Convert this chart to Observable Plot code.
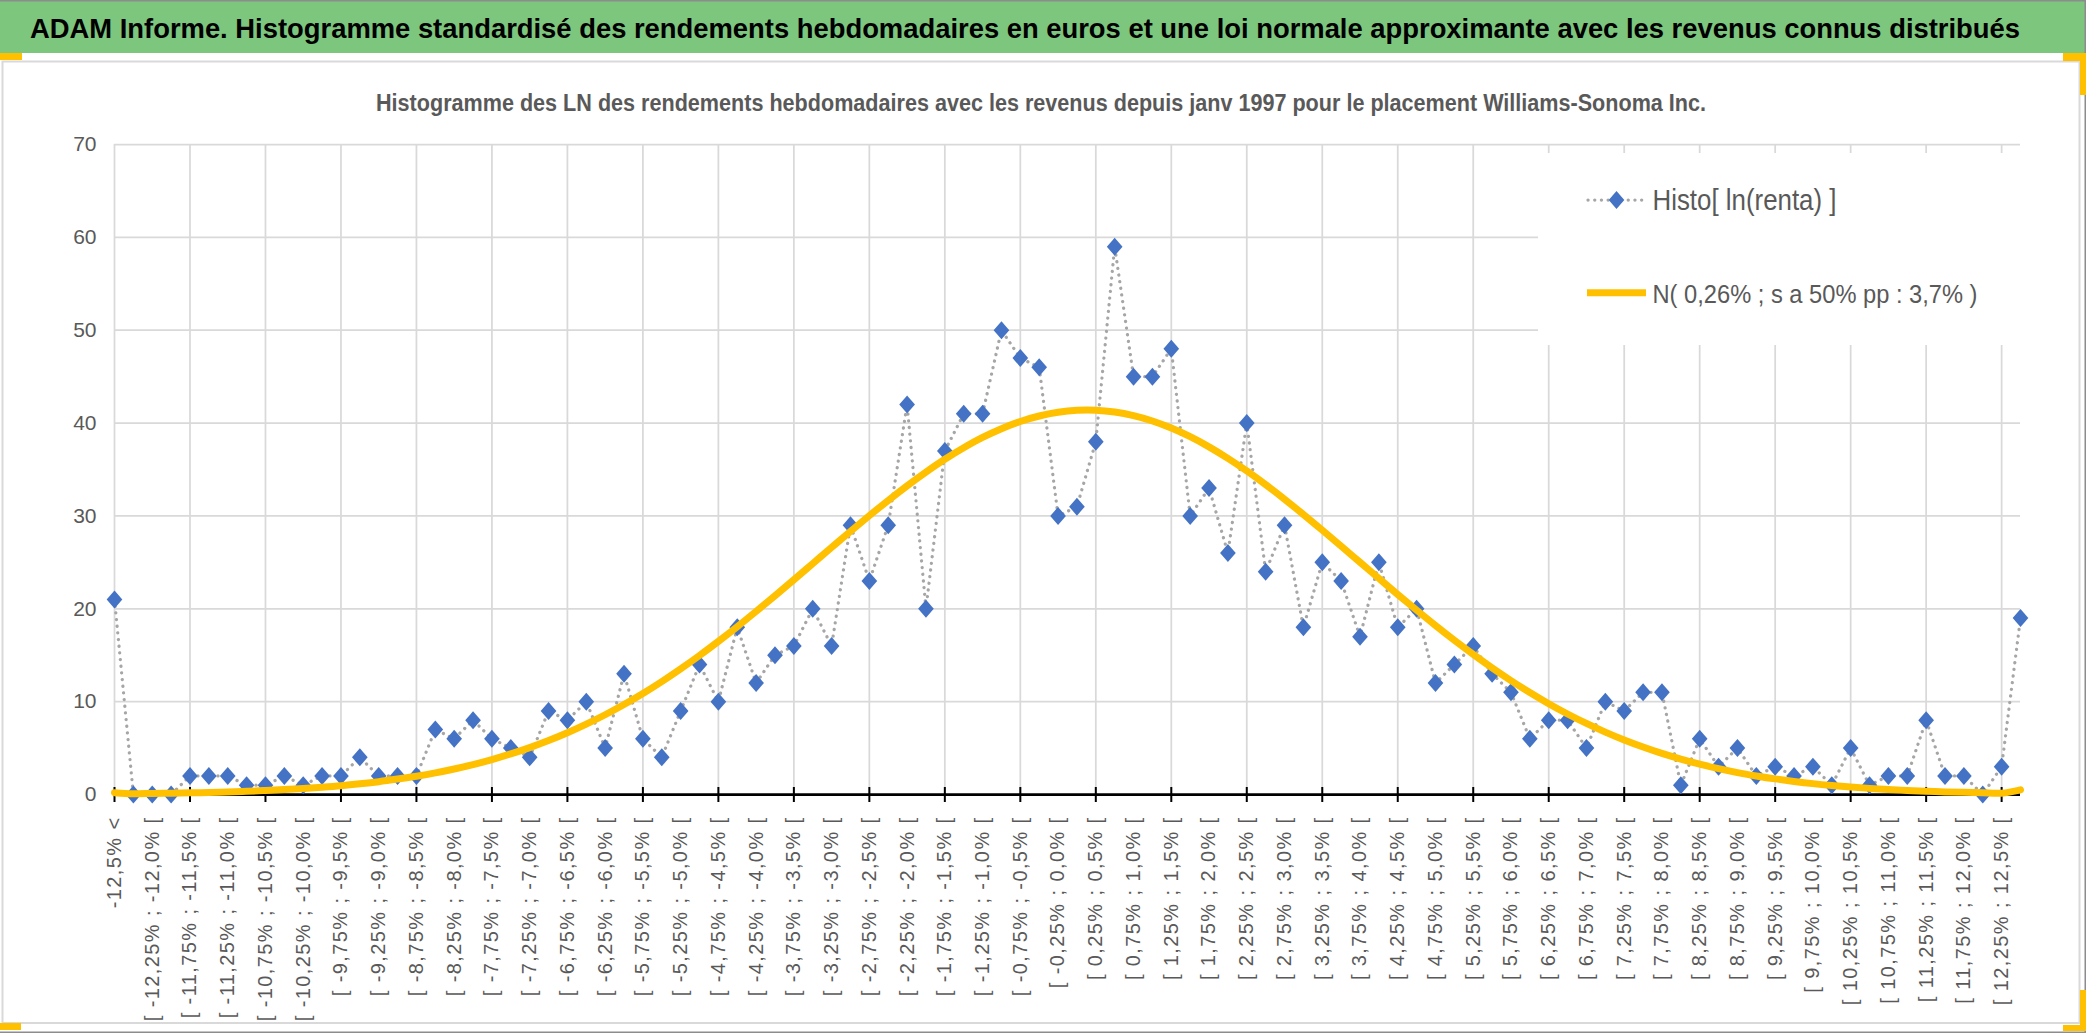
<!DOCTYPE html>
<html lang="fr">
<head>
<meta charset="utf-8">
<title>ADAM Informe</title>
<script src="https://cdn.jsdelivr.net/npm/d3@7"></script>
<script src="https://cdn.jsdelivr.net/npm/@observablehq/plot@0.6"></script>
<style>
html,body{margin:0;padding:0;background:#fff;}
#wrap{position:relative;width:2086px;height:1033px;overflow:hidden;background:#fff;}
#chart{position:absolute;left:0;top:53px;}
#deco{position:absolute;left:0;top:0;pointer-events:none;}
#chart g[aria-label="x-axis tick label"] text{letter-spacing:1.4px;}
.t{font-family:"Liberation Sans Narrow","Liberation Sans",Arial,sans-serif;}
</style>
</head>
<body>
<div id="wrap">
  <div id="chart"></div>
  <svg id="deco" width="2086" height="1033" xmlns="http://www.w3.org/2000/svg">
    <rect x="0" y="1" width="2085" height="52" fill="#7dc67e"/>
    <line x1="0" y1="0.75" x2="2086" y2="0.75" stroke="#8c8c8c" stroke-width="1.5"/>
    <line x1="2085.25" y1="0" x2="2085.25" y2="1033" stroke="#8c8c8c" stroke-width="1.5"/>
    <line x1="0" y1="1032.25" x2="2086" y2="1032.25" stroke="#8c8c8c" stroke-width="1.5"/>
    <rect x="2.5" y="61.5" width="2077" height="961.5" fill="none" stroke="#d9d9d9" stroke-width="2"/>
    <text class="t fit" x="30" y="38" font-size="30" font-weight="bold" fill="#000" data-target="1990">ADAM Informe. Histogramme standardisé des rendements hebdomadaires en euros et une loi normale approximante avec les revenus connus distribués</text>
    <text class="t fit" x="376" y="111" font-size="25" font-weight="bold" fill="#595959" data-target="1330">Histogramme des LN des rendements hebdomadaires avec les revenus depuis janv 1997 pour le placement Williams-Sonoma Inc.</text>
    <g id="legend">
      <rect x="1538" y="153" width="492" height="192" fill="#fff"/>
      <line x1="1588" y1="200" x2="1644" y2="200" stroke="#a6a6a6" stroke-width="3.25" stroke-dasharray="0.1 6.6" stroke-linecap="round"/>
      <path d="M1616.5,191L1624.3,200L1616.5,209L1608.7,200Z" fill="#4472c4"/>
      <text class="t fit" x="1652.5" y="210" font-size="29" fill="#595959" data-target="184">Histo[ ln(renta) ]</text>
      <line x1="1587" y1="292.7" x2="1646" y2="292.7" stroke="#ffc000" stroke-width="7"/>
      <text class="t fit" x="1652.5" y="303" font-size="29" fill="#595959" data-target="325">N( 0,26% ; s a 50% pp : 3,7% )</text>
    </g>
    <g fill="#ffc000">
      <rect x="0" y="53" width="22" height="7"/>
      <rect x="2063" y="53" width="23" height="8"/>
      <rect x="2080" y="53" width="6" height="42"/>
      <rect x="0" y="1023" width="21" height="7"/>
      <rect x="2063" y="1025" width="23" height="6"/>
      <rect x="2080" y="990" width="6" height="41"/>
    </g>
  </svg>
</div>
<script>
const categories = [
"-12,5% <",
"[ -12,5% ; -12,25% [","[ -12,25% ; -12,0% [","[ -12,0% ; -11,75% [","[ -11,75% ; -11,5% [",
"[ -11,5% ; -11,25% [","[ -11,25% ; -11,0% [","[ -11,0% ; -10,75% [","[ -10,75% ; -10,5% [",
"[ -10,5% ; -10,25% [","[ -10,25% ; -10,0% [","[ -10,0% ; -9,75% [","[ -9,75% ; -9,5% [",
"[ -9,5% ; -9,25% [","[ -9,25% ; -9,0% [","[ -9,0% ; -8,75% [","[ -8,75% ; -8,5% [",
"[ -8,5% ; -8,25% [","[ -8,25% ; -8,0% [","[ -8,0% ; -7,75% [","[ -7,75% ; -7,5% [",
"[ -7,5% ; -7,25% [","[ -7,25% ; -7,0% [","[ -7,0% ; -6,75% [","[ -6,75% ; -6,5% [",
"[ -6,5% ; -6,25% [","[ -6,25% ; -6,0% [","[ -6,0% ; -5,75% [","[ -5,75% ; -5,5% [",
"[ -5,5% ; -5,25% [","[ -5,25% ; -5,0% [","[ -5,0% ; -4,75% [","[ -4,75% ; -4,5% [",
"[ -4,5% ; -4,25% [","[ -4,25% ; -4,0% [","[ -4,0% ; -3,75% [","[ -3,75% ; -3,5% [",
"[ -3,5% ; -3,25% [","[ -3,25% ; -3,0% [","[ -3,0% ; -2,75% [","[ -2,75% ; -2,5% [",
"[ -2,5% ; -2,25% [","[ -2,25% ; -2,0% [","[ -2,0% ; -1,75% [","[ -1,75% ; -1,5% [",
"[ -1,5% ; -1,25% [","[ -1,25% ; -1,0% [","[ -1,0% ; -0,75% [","[ -0,75% ; -0,5% [",
"[ -0,5% ; -0,25% [","[ -0,25% ; 0,0% [","[ 0,0% ; 0,25% [","[ 0,25% ; 0,5% [",
"[ 0,5% ; 0,75% [","[ 0,75% ; 1,0% [","[ 1,0% ; 1,25% [","[ 1,25% ; 1,5% [",
"[ 1,5% ; 1,75% [","[ 1,75% ; 2,0% [","[ 2,0% ; 2,25% [","[ 2,25% ; 2,5% [",
"[ 2,5% ; 2,75% [","[ 2,75% ; 3,0% [","[ 3,0% ; 3,25% [","[ 3,25% ; 3,5% [",
"[ 3,5% ; 3,75% [","[ 3,75% ; 4,0% [","[ 4,0% ; 4,25% [","[ 4,25% ; 4,5% [",
"[ 4,5% ; 4,75% [","[ 4,75% ; 5,0% [","[ 5,0% ; 5,25% [","[ 5,25% ; 5,5% [",
"[ 5,5% ; 5,75% [","[ 5,75% ; 6,0% [","[ 6,0% ; 6,25% [","[ 6,25% ; 6,5% [",
"[ 6,5% ; 6,75% [","[ 6,75% ; 7,0% [","[ 7,0% ; 7,25% [","[ 7,25% ; 7,5% [",
"[ 7,5% ; 7,75% [","[ 7,75% ; 8,0% [","[ 8,0% ; 8,25% [","[ 8,25% ; 8,5% [",
"[ 8,5% ; 8,75% [","[ 8,75% ; 9,0% [","[ 9,0% ; 9,25% [","[ 9,25% ; 9,5% [",
"[ 9,5% ; 9,75% [","[ 9,75% ; 10,0% [","[ 10,0% ; 10,25% [","[ 10,25% ; 10,5% [",
"[ 10,5% ; 10,75% [","[ 10,75% ; 11,0% [","[ 11,0% ; 11,25% [","[ 11,25% ; 11,5% [",
"[ 11,5% ; 11,75% [","[ 11,75% ; 12,0% [","[ 12,0% ; 12,25% [","[ 12,25% ; 12,5% [",
"12,5% <="
];

const histoCounts = [
21,0,0,0,2,2,2,1,1,2,1,2,2,4,2,2,2,7,6,8,
6,5,4,9,8,10,5,13,6,4,9,14,10,18,12,15,16,20,16,29,
23,29,42,20,37,41,41,50,47,46,30,31,38,59,45,45,48,30,33,26,
40,24,29,18,25,23,17,25,18,20,12,14,16,13,11,6,8,8,5,10,
9,11,11,1,6,3,5,2,3,2,3,1,5,1,2,2,8,2,2,0,
3,19
];

const normalCurve = [
0.2,
0.09,0.11,0.14,0.18,0.22,0.28,0.35,0.43,0.53,0.65,
0.79,0.95,1.15,1.38,1.66,1.97,2.33,2.75,3.22,3.76,
4.37,5.05,5.81,6.65,7.58,8.59,9.69,10.88,12.16,13.53,
14.97,16.49,18.07,19.72,21.41,23.13,24.87,26.61,28.34,30.03,
31.67,33.24,34.72,36.1,37.34,38.45,39.39,40.17,40.76,41.16,
41.37,41.38,41.19,40.8,40.22,39.46,38.53,37.44,36.2,34.84,
33.37,31.8,30.16,28.47,26.75,25.01,23.27,21.54,19.85,18.2,
16.61,15.09,13.64,12.27,10.98,9.78,8.67,7.65,6.72,5.87,
5.11,4.42,3.81,3.26,2.78,2.36,2.0,1.68,1.41,1.17,
0.97,0.8,0.66,0.54,0.44,0.35,0.28,0.23,0.18,0.14,
0.5
];

const yTicks = [0, 10, 20, 30, 40, 50, 60, 70];
const labelStep = 2;   // one label every 2 categories
const gridStep = 4;    // one grid line / tick every 4 categories

const rows = categories.map((c, i) => ({cat: c, histo: histoCounts[i], normal: normalCurve[i]}));
const labelCats = categories.filter((_, i) => i % labelStep === 0);
const gridCats = categories.filter((_, i) => i % gridStep === 0);

// Excel-like diamond marker, slightly taller than wide
const diamond = {
  draw(ctx, size) {
    const h = Math.sqrt(size / Math.PI);
    const w = h * 0.87;
    ctx.moveTo(0, -h); ctx.lineTo(w, 0); ctx.lineTo(0, h); ctx.lineTo(-w, 0); ctx.closePath();
  }
};

const chart = Plot.plot({
  width: 2086,
  height: 980,
  marginTop: 91,
  marginBottom: 239,
  marginLeft: 114,
  marginRight: 66,
  style: {background: "transparent", color: "#595959", fontFamily: "'Liberation Sans', Arial, sans-serif"},
  x: {type: "point", domain: categories, padding: 0},
  y: {domain: [0, 70]},
  marks: [
    Plot.gridY(yTicks.filter(v => v > 0), {stroke: "#d9d9d9", strokeOpacity: 1, strokeWidth: 1.75}),
    Plot.gridX(gridCats, {stroke: "#d9d9d9", strokeOpacity: 1, strokeWidth: 1.75}),
    Plot.axisY(yTicks, {tickSize: 0, tickPadding: 18, fontSize: 21, label: null}),
    Plot.axisX(labelCats, {tickSize: 0, tickPadding: 22, tickRotate: -90, fontSize: 20, label: null, tickFormat: d => d}),
    Plot.line(rows, {x: "cat", y: "histo", stroke: "#a6a6a6", strokeWidth: 3.25, strokeDasharray: "0.1 6.6", strokeLinecap: "round"}),
    Plot.ruleY([0], {stroke: "#000", strokeWidth: 2.75}),
    Plot.axisX(gridCats, {tickSize: 15, dy: -7, tickFormat: () => "", stroke: "#000", strokeWidth: 2, label: null}),
    Plot.dot(rows, {x: "cat", y: "histo", symbol: diamond, r: 9, fill: "#4472c4", stroke: "none"}),
    Plot.line(rows, {x: "cat", y: "normal", stroke: "#ffc000", strokeWidth: 7, curve: "catmull-rom"})
  ]
});
document.getElementById("chart").appendChild(chart);

// Fit decoration texts: keep the natural width inside the page, then set the exact width.
const pageRight = 2070;
document.querySelectorAll("#deco text.fit").forEach(el => {
  const x = +el.getAttribute("x");
  const target = +el.getAttribute("data-target");
  let fs = +el.getAttribute("font-size");
  const natural = el.getComputedTextLength();
  const maxNatural = Math.min(pageRight - x, target * 1.12);
  if (natural > maxNatural) {
    fs = fs * maxNatural / natural;
    el.setAttribute("font-size", fs.toFixed(2));
  }
  el.setAttribute("textLength", target);
  el.setAttribute("lengthAdjust", "spacingAndGlyphs");
});
</script>
</body>
</html>
